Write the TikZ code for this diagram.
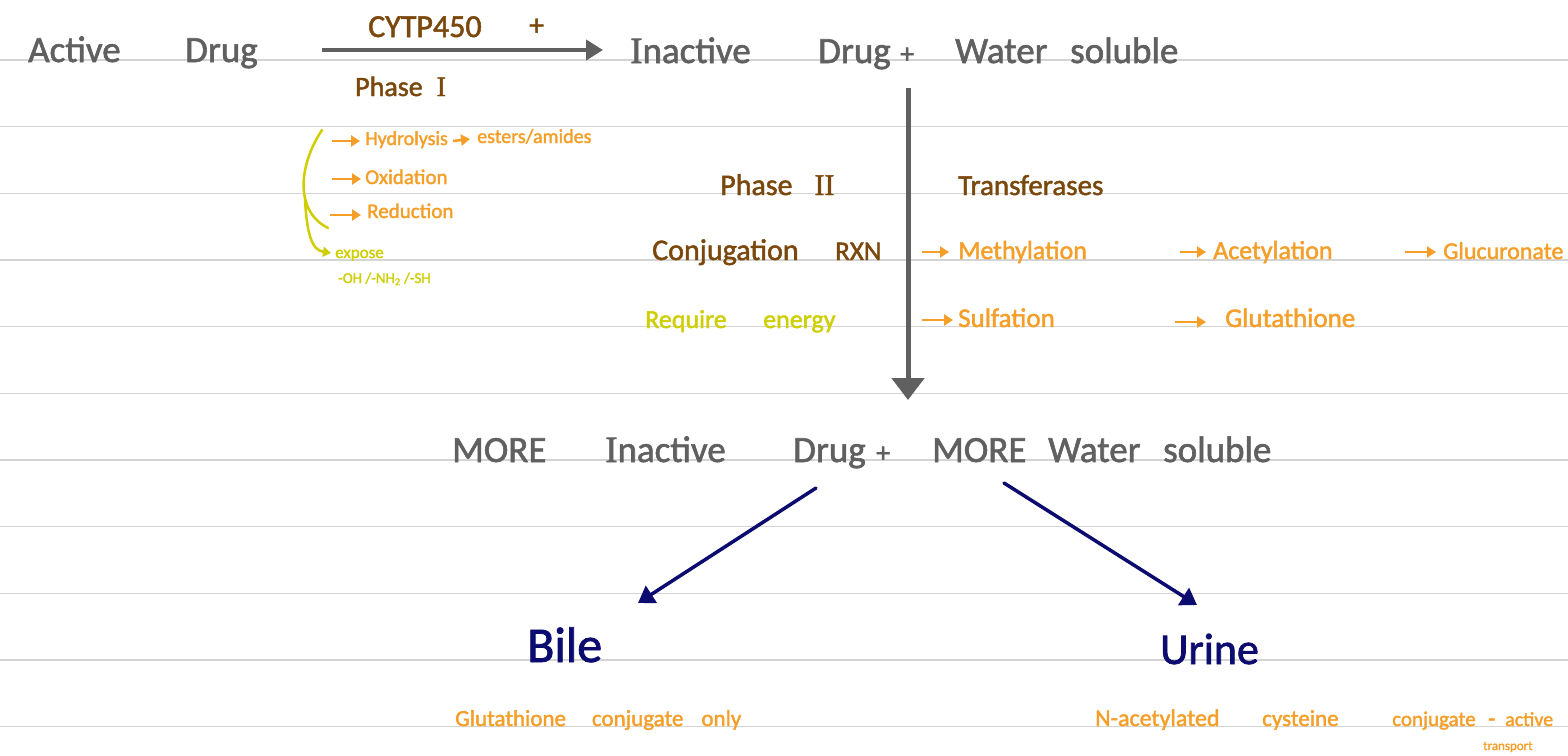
\documentclass[tikz,border=0pt]{standalone}
\usepackage{fontspec}
\newfontfamily\handfont[FakeBold=1.6]{Carlito}
\newfontfamily\romfont[FakeBold=1.6]{Liberation Serif}
\usetikzlibrary{arrows.meta}

\definecolor{inkgrey}{RGB}{96,96,96}
\definecolor{inkbrown}{RGB}{122,72,12}
\definecolor{inkorange}{RGB}{245,158,40}
\definecolor{inkyellow}{RGB}{206,206,0}
\definecolor{inknavy}{RGB}{12,12,112}
\definecolor{ruleline}{RGB}{212,212,212}

\begin{document}
\begin{tikzpicture}[x=1pt, y=-1pt,
    word/.style={anchor=base west, inner sep=0pt},
    grytxt/.style={word, text=inkgrey, font=\handfont\fontsize{#1}{#1}\selectfont},
    grytxt/.default=37,
    brntxt/.style={word, text=inkbrown, font=\handfont\fontsize{#1}{#1}\selectfont},
    brntxt/.default=29,
    ortxt/.style={word, text=inkorange, font=\handfont\fontsize{#1}{#1}\selectfont},
    ortxt/.default=26,
    yeltxt/.style={word, text=inkyellow, font=\handfont\fontsize{#1}{#1}\selectfont},
    yeltxt/.default=26,
    navtxt/.style={word, text=inknavy, font=\handfont\fontsize{#1}{#1}\selectfont},
    ruled/.style={draw=ruleline, line width=1.5pt},
    grarrow/.style={draw=inkgrey, line width=4pt, -{Triangle[length=17pt,width=20pt]}},
    bigarrow/.style={draw=inkgrey, line width=5pt, -{Triangle[length=22pt,width=32pt]}},
    navarrow/.style={draw=inknavy, line width=3.5pt, line cap=round, -{Triangle[length=16pt,width=20pt]}},
    orarrow/.style={draw=inkorange, line width=2.5pt, -{Triangle[length=9pt,width=11pt]}},
    yelline/.style={draw=inkyellow, line width=2.5pt, line cap=round}
  ]

  % page and ruled lines
  \useasboundingbox[fill=white] (0,0) rectangle (1568,755);
  \foreach \k in {0,...,10}
    \draw[ruled] (0,{60+66.67*\k}) -- (1568,{60+66.67*\k});

  % Phase I row
  \node[grytxt] (act) at (28,62) {Active};
  \node[grytxt] (drug) at (185,62) {Drug};
  \node[grytxt] (inact) at (630,63) {{\romfont I}nactive};
  \node[grytxt] (drugB) at (818,63) {Drug};
  \node[grytxt=28] (plusA) at (900,63) {+};
  \node[grytxt] (water) at (955,63) {Water};
  \node[grytxt] (sol) at (1070,63) {soluble};

  \node[brntxt=32] (cyp) at (368,37) {CYTP450};
  \node[brntxt=30] (cypplus) at (529,35) {+};
  \node[brntxt=28] (ph1) at (355,96) {Phase\hspace{14pt}{\romfont I}};

  \coordinate (p1a) at (322,50);
  \coordinate (p1b) at (603,50);
  \draw[grarrow] (p1a) -- (p1b);

  % Phase I reactions
  \node[ortxt=20] (hyd) at (365,145) {Hydrolysis};
  \node[ortxt=20] (est) at (477,143) {esters/amides};
  \node[ortxt=21] (oxi) at (365,184) {Oxidation};
  \node[ortxt=21] (red) at (367,218) {Reduction};
  \draw[orarrow] ([xshift=-33pt,yshift=4pt]hyd.base west) -- ([xshift=-5pt,yshift=4pt]hyd.base west);
  \draw[orarrow] ([xshift=5pt,yshift=4pt]hyd.base east) -- ([xshift=-7pt,yshift=4pt]est.base west);
  \draw[orarrow] ([xshift=-33pt,yshift=5pt]oxi.base west) -- ([xshift=-4pt,yshift=5pt]oxi.base west);
  \draw[orarrow] ([xshift=-37pt,yshift=3pt]red.base west) -- ([xshift=-6pt,yshift=3pt]red.base west);

  \node[yeltxt=17] (expo) at (335,258) {expose};
  \node[yeltxt=15] (grp) at (338,283) {-OH /-NH\textsubscript{2} /-SH};
  \draw[yelline] (322,130) .. controls (297,168) and (296,212) .. (328,228);
  \draw[yelline, -{Triangle[length=8pt,width=10pt]}] (305,200) .. controls (307,232) and (311,250) .. ([xshift=-4pt,yshift=5pt]expo.base west);

  % Phase II
  \node[brntxt=30] (ph2) at (720,195) {Phase\hspace{22pt}{\romfont II}};
  \node[brntxt=29] (trans) at (958,195) {Transferases};
  \node[brntxt=30] (conj) at (652,260) {Conjugation};
  \node[brntxt=27] (rxn) at (835,260) {RXN};
  \node[yeltxt=26] (req) at (645,328) {Require};
  \node[yeltxt=26] (ener) at (763,328) {energy};

  \coordinate (p2a) at (908,88);
  \coordinate (p2b) at (908,400);
  \draw[bigarrow] (p2a) -- (p2b);

  \node[ortxt=26] (meth) at (958,259) {Methylation};
  \node[ortxt=26] (acet) at (1213,259) {Acetylation};
  \node[ortxt=24] (gluc) at (1443,259) {Glucuronate};
  \node[ortxt=27] (sulf) at (958,327) {Sulfation};
  \node[ortxt=27] (glut) at (1225,327) {Glutathione};
  \draw[orarrow] ([xshift=-36pt,yshift=7pt]meth.base west) -- ([xshift=-9pt,yshift=7pt]meth.base west);
  \draw[orarrow] ([xshift=-33pt,yshift=7pt]acet.base west) -- ([xshift=-7pt,yshift=7pt]acet.base west);
  \draw[orarrow] ([xshift=-38pt,yshift=7pt]gluc.base west) -- ([xshift=-7pt,yshift=7pt]gluc.base west);
  \draw[orarrow] ([xshift=-36pt,yshift=7pt]sulf.base west) -- ([xshift=-5pt,yshift=7pt]sulf.base west);
  \draw[orarrow] ([xshift=-50pt,yshift=5pt]glut.base west) -- ([xshift=-19pt,yshift=5pt]glut.base west);

  % after Phase II
  \node[grytxt] (more1) at (452,462) {MORE};
  \node[grytxt] (inact2) at (605,462) {{\romfont I}nactive};
  \node[grytxt] (drug2) at (793,462) {Drug};
  \node[grytxt=28] (plus2) at (876,462) {+};
  \node[grytxt] (more2) at (932,462) {MORE};
  \node[grytxt] (water2) at (1048,462) {Water};
  \node[grytxt] (sol2) at (1163,462) {soluble};

  % excretion
  \node[navtxt=50] (bile) at (527,662) {Bile};
  \node[navtxt=44] (urine) at (1160,664) {Urine};
  \coordinate (p3a) at (816,488);
  \coordinate (p3b) at (638,603);
  \coordinate (p4a) at (1004,483);
  \coordinate (p4b) at (1197,605);
  \draw[navarrow] (p3a) -- (p3b);
  \draw[navarrow] (p4a) -- (p4b);

  \node[ortxt=23] (gconj) at (455,726) {Glutathione\hspace{26pt}conjugate\hspace{18pt}only};
  \node[ortxt=24] (nac) at (1095,726) {N-acetylated};
  \node[ortxt=23] (cys) at (1262,726) {cysteine};
  \node[ortxt=21] (conj2) at (1392,726) {conjugate};
  \node[ortxt=23] (dsh) at (1488,726) {-};
  \node[ortxt=20] (actv) at (1505,726) {active};
  \node[ortxt=13] (trp) at (1483,750) {transport};

\end{tikzpicture}
\end{document}
